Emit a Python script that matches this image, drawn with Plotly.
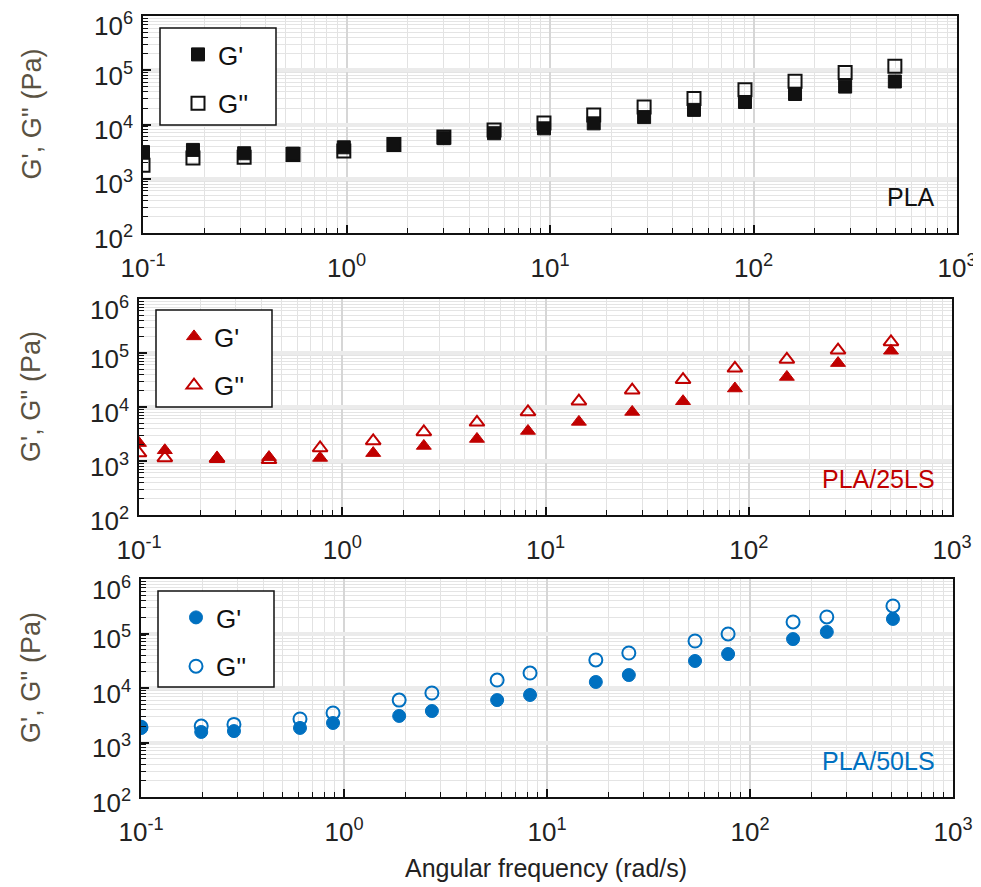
import plotly.graph_objects as go

# ---------------- data ----------------
pla_w = [0.1, 0.176, 0.314, 0.546, 0.97, 1.71, 3.01, 5.31, 9.34, 16.4, 29, 51, 90.8, 160, 282, 495]
pla_g1 = [3100, 3400, 2950, 2900, 3800, 4350, 5600, 6900, 8500, 10500, 13700, 18600, 26000, 36500, 50000, 62000]
pla_g2 = [1780, 2400, 2500, 2800, 3250, 4300, 5900, 7900, 10700, 15000, 21000, 30000, 43500, 63000, 91000, 118000]

ls25_w = [0.1, 0.134, 0.242, 0.436, 0.778, 1.42, 2.52, 4.6, 8.2, 14.6, 26.7, 47.5, 85.5, 154, 275, 501]
ls25_g1 = [2150, 1580, 1150, 1180, 1140, 1400, 1900, 2560, 3600, 5300, 8100, 12800, 22000, 36000, 65000, 110000]
ls25_g2 = [1400, 1140, 1100, 1050, 1740, 2350, 3450, 5200, 8100, 12800, 20500, 32000, 52000, 76000, 113000, 160000]

ls50_w = [0.1, 0.198, 0.287, 0.607, 0.883, 1.87, 2.71, 5.68, 8.25, 17.4, 25.3, 53.6, 78, 163, 239, 506]
ls50_g1 = [1850, 1560, 1620, 1850, 2280, 3070, 3780, 6000, 7450, 12900, 17300, 31300, 42000, 79000, 107000, 185000]
ls50_g2 = [1900, 2000, 2150, 2700, 3480, 6000, 8100, 14000, 18800, 32700, 43900, 72800, 98000, 163000, 201000, 320000]

x_tickvals = [0.1, 1, 10, 100, 1000]
x_ticktext = ["10<sup>-1</sup>", "10<sup>0</sup>", "10<sup>1</sup>", "10<sup>2</sup>", "10<sup>3</sup>"]
y_exponents = [2, 3, 4, 5, 6]
y_ticktext = ["10<sup>2</sup>", "10<sup>3</sup>", "10<sup>4</sup>", "10<sup>5</sup>", "10<sup>6</sup>"]

panel_names = ["PLA", "PLA/25LS", "PLA/50LS"]
series_labels = ["G'", "G''"]
y_title = "G', G'' (Pa)"
x_title = "Angular frequency (rad/s)"

# ---------------- styling ----------------
PAGE_W, PAGE_H = 981, 887
OFF = 8  # default page body margin
W, H = PAGE_W - OFF, PAGE_H - OFF
FONT = "Liberation Sans, Arial, sans-serif"
BLACK = "#111111"
TXT = "#222222"
RED = "#C00000"
BLUE = "#0070C0"


def px(xp):
    return (xp - OFF) / W


def py(yp):
    return 1 - (yp - OFF) / H


# page-pixel boxes of the three panels (left, right, top, bottom)
boxes = [(143, 957, 16, 233), (139, 952, 299, 515), (141, 953, 579, 797)]
legend_boxes = [(160, 276, 28, 125), (156, 272, 310, 407), (158, 274, 591, 687)]

panels = [
    (pla_w, pla_g1, pla_g2, BLACK, "square", "square-open"),
    (ls25_w, ls25_g1, ls25_g2, RED, "triangle-up", "triangle-up-open"),
    (ls50_w, ls50_g1, ls50_g2, BLUE, "circle", "circle-open"),
]

fig = go.Figure()
shapes = []
annotations = []
layout = {}

for i, (w, g1, g2, col, sym_f, sym_o) in enumerate(panels):
    n = "" if i == 0 else str(i + 1)
    leg = "legend" if i == 0 else f"legend{i+1}"
    xa, ya = "x" + n, "y" + n
    # G'' first (drawn beneath), G' on top
    fig.add_trace(go.Scatter(
        x=w, y=g2, mode="markers", name=series_labels[1], xaxis=xa, yaxis=ya,
        legend=leg, legendrank=2, legendgroup=f"b{i}",
        marker=dict(symbol=sym_o, size=13, color=col, line=dict(color=col, width=2)),
    ))
    fig.add_trace(go.Scatter(
        x=w, y=g1, mode="markers", name=series_labels[0], xaxis=xa, yaxis=ya,
        legend=leg, legendrank=1, legendgroup=f"a{i}",
        marker=dict(symbol=sym_f, size=13, color=col, line=dict(color=col, width=1)),
    ))

    l, r, t, b = boxes[i]
    xdom = [px(l), px(r)]
    ydom = [py(b), py(t)]
    layout["xaxis" + n] = dict(
        type="log", range=[-1, 3], domain=xdom, anchor=ya, automargin=False,
        tickvals=x_tickvals, ticktext=x_ticktext,
        ticks="inside", ticklen=8, tickwidth=1.5, tickcolor=BLACK,
        ticklabelstandoff=11, ticklabeloverflow="allow",
        showline=True, linecolor=BLACK, linewidth=2, mirror=True,
        showgrid=True, gridcolor="#d6d6d6", gridwidth=1.5,
        minor=dict(dtick="D1", ticks="inside", ticklen=5, tickwidth=1.2,
                   tickcolor=BLACK, showgrid=True, gridcolor="#e2e2e2", gridwidth=1),
        tickfont=dict(family=FONT, size=26, color=TXT),
        zeroline=False,
    )
    layout["yaxis" + n] = dict(
        type="log", range=[2, 6], domain=ydom, anchor=xa, automargin=False,
        tickvals=[10 ** e for e in y_exponents], showticklabels=False,
        ticks="inside", ticklen=8, tickwidth=1.5, tickcolor=BLACK,
        showline=True, linecolor=BLACK, linewidth=2, mirror=True,
        showgrid=True, gridcolor="#ebebeb", gridwidth=4,
        minor=dict(dtick="D1", ticks="inside", ticklen=5, tickwidth=1.2,
                   tickcolor=BLACK, showgrid=True, gridcolor="#e4e4e4", gridwidth=1),
        zeroline=False,
    )

    # y tick labels, placed on the axis scale (log10 units) slightly below the ticks
    for e, txt in zip(y_exponents, y_ticktext):
        annotations.append(dict(
            text=txt, xref="paper", yref=ya, x=px(l - 8), y=e,
            xanchor="right", yanchor="middle", yshift=-4 if e < 6 else -9,
            showarrow=False, font=dict(family=FONT, size=26, color=TXT),
        ))

    # y-axis title
    annotations.append(dict(
        text=y_title, xref="paper", yref="paper", textangle=-90,
        x=px(31), y=py((t + b) / 2 - 10), xanchor="center", yanchor="middle",
        showarrow=False, font=dict(family=FONT, size=27, color="#5a5242"),
    ))

    # legend frame
    ll, lr, lt, lb = legend_boxes[i]
    shapes.append(dict(type="rect", xref="paper", yref="paper",
                       x0=px(ll), x1=px(lr), y0=py(lb), y1=py(lt),
                       line=dict(color=BLACK, width=1.5), fillcolor="white", layer="above"))
    layout[leg] = dict(
        x=px(ll + 18), y=py(lt + 3), xanchor="left", yanchor="top",
        bgcolor="rgba(0,0,0,0)", borderwidth=0,
        font=dict(family=FONT, size=26, color=BLACK),
        tracegroupgap=12, itemsizing="trace",
    )

    # panel label
    annotations.append(dict(
        text=panel_names[i], xref="paper", yref="paper",
        x=px(937), y=py(b - 36), xanchor="right", yanchor="middle",
        showarrow=False, font=dict(family=FONT, size=25, color=col),
    ))

annotations.append(dict(
    text=x_title, xref="paper", yref="paper",
    x=px(546), y=py(868), xanchor="center", yanchor="middle",
    showarrow=False, font=dict(family=FONT, size=25, color=TXT),
))

fig.update_layout(
    width=W, height=H,
    margin=dict(l=0, r=0, t=0, b=0),
    paper_bgcolor="white", plot_bgcolor="white",
    showlegend=True,
    shapes=shapes, annotations=annotations,
    **layout,
)

fig.write_html("out.html")
